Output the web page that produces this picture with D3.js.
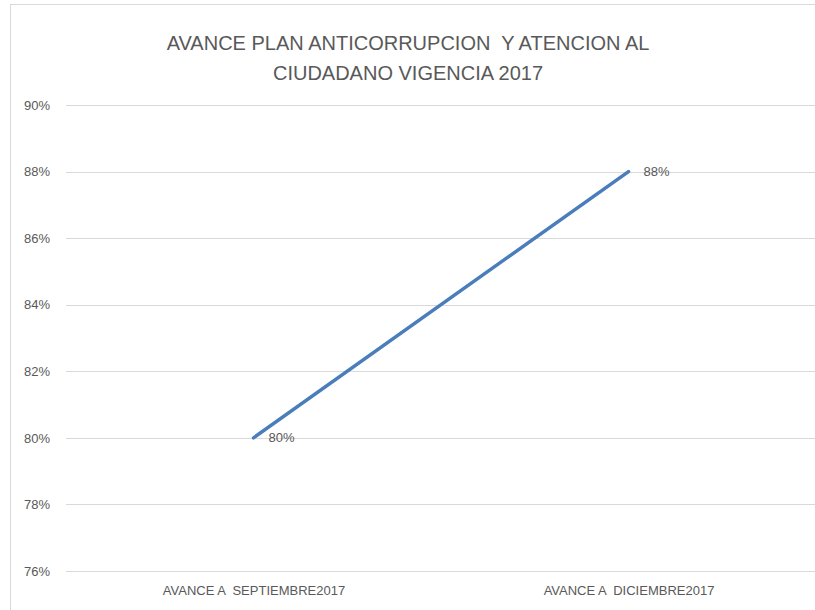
<!DOCTYPE html>
<html>
<head>
<meta charset="utf-8">
<script src="https://cdn.jsdelivr.net/npm/d3@7"></script>
<style>
  body { margin: 0; background: #fff; }
  text { font-family: "Liberation Sans", sans-serif; fill: #595959; white-space: pre; }
</style>
</head>
<body>
<div id="chart"></div>
<script>
// data
const categories = ["AVANCE A  SEPTIEMBRE2017", "AVANCE A  DICIEMBRE2017"];
const values = [0.80, 0.88];
const yTicks = [0.76, 0.78, 0.80, 0.82, 0.84, 0.86, 0.88, 0.90];
const titleLines = ["AVANCE PLAN ANTICORRUPCION  Y ATENCION AL", "CIUDADANO VIGENCIA 2017"];

const width = 815;
const height = 610;
const margin = { top: 105, right: -1, bottom: 39, left: 66 };
const innerWidth = width - margin.left - margin.right;
const innerHeight = height - margin.top - margin.bottom;

const svg = d3.select("#chart")
    .append("svg")
    .attr("width", width)
    .attr("height", height);

// chart border (runs off the right and bottom edges)
svg.append("rect")
    .attr("x", 10.5)
    .attr("y", 4.5)
    .attr("width", width)
    .attr("height", height)
    .attr("fill", "none")
    .attr("stroke", "#d9d9d9");

svg.append("text")
    .attr("text-anchor", "middle")
    .attr("font-size", 20)
    .selectAll("tspan")
    .data(titleLines)
    .join("tspan")
        .attr("x", 408)
        .attr("y", (d, i) => 50 + i * 30)
        .text(d => d);

const innerChart = svg.append("g")
    .attr("transform", `translate(${margin.left}, ${margin.top})`);

const xScale = d3.scalePoint()
    .domain(categories)
    .range([0, innerWidth])
    .padding(0.5);

const yScale = d3.scaleLinear()
    .domain([0.76, 0.90])
    .range([innerHeight, 0]);

// gridlines
innerChart.append("g")
    .selectAll("line")
    .data(yTicks)
    .join("line")
        .attr("x1", 0)
        .attr("x2", innerWidth)
        .attr("y1", d => Math.round(yScale(d)) + 0.5)
        .attr("y2", d => Math.round(yScale(d)) + 0.5)
        .attr("stroke", "#d9d9d9")
        .attr("stroke-width", 1);

const leftAxis = d3.axisLeft(yScale)
    .tickValues(yTicks)
    .tickFormat(d3.format(".0%"))
    .tickSize(0)
    .tickPadding(16);

innerChart.append("g")
    .call(leftAxis)
    .call(g => g.select(".domain").remove())
    .selectAll("text")
        .attr("font-size", 13)
        .attr("font-family", "Liberation Sans, sans-serif")
        .attr("fill", "#595959");

const bottomAxis = d3.axisBottom(xScale)
    .tickSize(0)
    .tickPadding(15);

innerChart.append("g")
    .attr("transform", `translate(0, ${innerHeight})`)
    .call(bottomAxis)
    .call(g => g.select(".domain").remove())
    .selectAll("text")
        .attr("font-size", 13)
        .attr("font-family", "Liberation Sans, sans-serif")
        .attr("fill", "#595959");

const points = categories.map((c, i) => ({ cat: c, value: values[i] }));

const line = d3.line()
    .x(d => xScale(d.cat))
    .y(d => yScale(d.value));

innerChart.append("path")
    .datum(points)
    .attr("d", line)
    .attr("fill", "none")
    .attr("stroke", "#4a7ebb")
    .attr("stroke-width", 3.5)
    .attr("stroke-linecap", "round");

innerChart.selectAll(".label")
    .data(points)
    .join("text")
        .attr("class", "label")
        .attr("x", d => xScale(d.cat) + 15)
        .attr("y", d => yScale(d.value))
        .attr("dy", "0.35em")
        .attr("font-size", 13)
        .text(d => d3.format(".0%")(d.value));
</script>
</body>
</html>
